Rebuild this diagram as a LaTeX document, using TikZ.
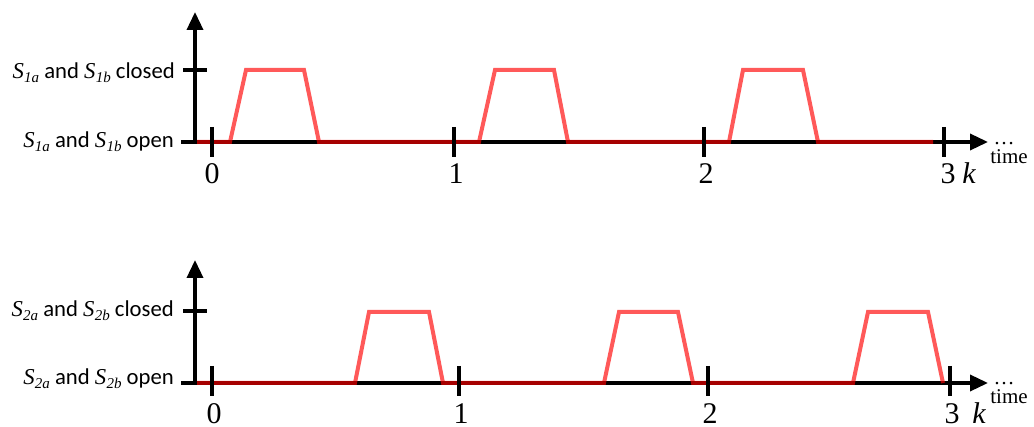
\documentclass[tikz,border=0pt]{standalone}
\usepackage{fontspec}
\setmainfont{Carlito}
\newfontfamily\tms{Liberation Serif}
\usetikzlibrary{arrows.meta,calc}
\newcommand{\Ssw}[1]{{\tms\itshape S\kern0.01em\raisebox{-0.35ex}{\fontsize{15}{15}\selectfont #1}}}
\begin{document}
\begin{tikzpicture}[x=1pt,y=-1pt,
 axis/.style={line width=3.5pt, -{Triangle[length=18pt,width=16pt]}},
 tickline/.style={line width=3.5pt},
 wave/.style={line width=4pt, red, opacity=0.65, line join=miter},
 lvl/.style={anchor=base east, font=\fontsize{22.7}{22.7}\selectfont, inner sep=0},
 num/.style={anchor=base, font=\tms\fontsize{30}{30}\selectfont, inner sep=0},
 tm/.style={anchor=base, font=\tms\fontsize{21}{21}\selectfont, inner sep=0}]
\useasboundingbox (0,0) rectangle (1034,427);

% ---------- top panel ----------
\coordinate (t-o) at (195,142);
\coordinate (t-ytop) at (195,12);
\coordinate (t-xl) at (181,142);
\coordinate (t-xr) at (988,142);
\draw[axis] ($(t-o)+(0,1.75)$) -- (t-ytop);
\draw[axis] (t-xl) -- (t-xr);
\draw[tickline] (183,70) -- (207,70);
\draw[wave] (197,142) -- (230,142) -- (246,70) -- (304,70) -- (319,142)
 -- (479,142) -- (495,70) -- (554,70) -- (568,142)
 -- (729,142) -- (743,70) -- (803,70) -- (818,142) -- (933,142);
\foreach \x in {212,454,704,944} \draw[tickline] (\x,127) -- (\x,157);
\node[lvl] (t-closed) at (175,79) {\Ssw{1a} and \Ssw{1b} closed};
\node[lvl] (t-open) at (174,148) {\Ssw{1a} and \Ssw{1b} open};
\node[num] (t-0) at (212,184) {0};
\node[num] (t-1) at (456,184) {1};
\node[num] (t-2) at (706,184) {2};
\node[num] (t-3) at (948,184) {3};
\node[num] (t-k) at (969,184) {\itshape k};
\node[tm] (t-dots) at (1004,145) {\ldots};
\node[tm] (t-time) at (1009,164) {time};

% ---------- bottom panel ----------
\coordinate (b-o) at (195,383);
\coordinate (b-ytop) at (195,260);
\coordinate (b-xl) at (181,383);
\coordinate (b-xr) at (988,383);
\draw[axis] ($(b-o)+(0,1.75)$) -- (b-ytop);
\draw[axis] (b-xl) -- (b-xr);
\draw[tickline] (183,311) -- (207,311);
\draw[wave] (197,383) -- (355,383) -- (369,312) -- (429,312) -- (443,383)
 -- (604,383) -- (619,312) -- (678,312) -- (693,383)
 -- (853,383) -- (868,312) -- (928,312) -- (943,383);
\foreach \x in {212,459,708,950} \draw[tickline] (\x,366) -- (\x,396);
\node[lvl] (b-closed) at (174,317) {\Ssw{2a} and \Ssw{2b} closed};
\node[lvl] (b-open) at (174,385) {\Ssw{2a} and \Ssw{2b} open};
\node[num] (b-0) at (214,424) {0};
\node[num] (b-1) at (461,424) {1};
\node[num] (b-2) at (710,424) {2};
\node[num] (b-3) at (952,424) {3};
\node[num] (b-k) at (979,424) {\itshape k};
\node[tm] (b-dots) at (1004,385) {\ldots};
\node[tm] (b-time) at (1009,404) {time};
\end{tikzpicture}
\end{document}
